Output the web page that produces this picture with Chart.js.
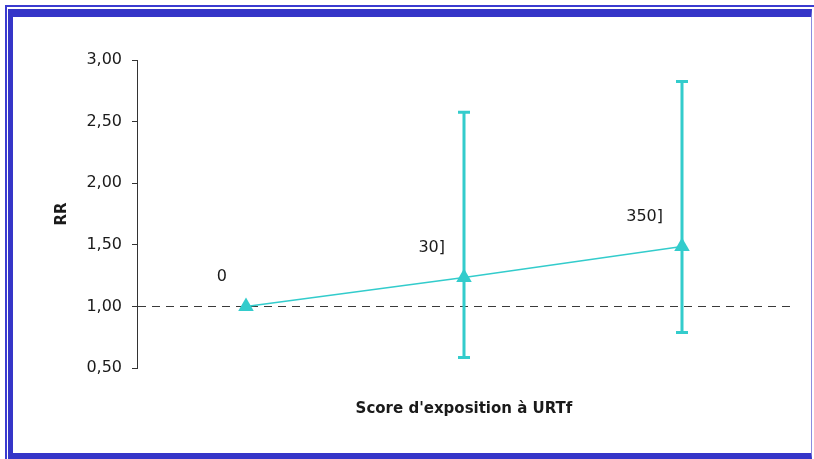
<!DOCTYPE html>
<html>
<head>
<meta charset="utf-8">
<script src="https://cdn.jsdelivr.net/npm/chart.js@4.4.0/dist/chart.umd.min.js"></script>
<style>
  html, body { margin: 0; padding: 0; background: #fff; overflow: hidden; }
  #wrap { position: relative; width: 814px; height: 459px; }
  .line { position: absolute; left: 5px; top: 5px; width: 900px; height: 900px; border-top: 2px solid #3b3bd0; border-left: 2px solid #3b3bd0; }
  .band { position: absolute; left: 8px; top: 9px; width: 798px; height: 436px; border-top: 8px solid #3535c8; border-left: 5px solid #3535c8; border-right: 1px solid #8c8ce0; border-bottom: 6px solid #3535c8; background: #fff; }
  canvas { position: absolute; left: 0; top: 0; }
</style>
</head>
<body>
<div id="wrap">
  <div class="line"></div>
  <div class="band"></div>
  <canvas id="myChart" width="814" height="459"></canvas>
</div>
<script>
// categories (score d'exposition) and relative risks with 95% CI
var categories = ['0', '30]', '350]'];
var rr = [1.00, 1.235, 1.487];
var ciLow = [null, 0.586, 0.789];
var ciHigh = [null, 2.575, 2.826];
var yTicks = [0.5, 1.0, 1.5, 2.0, 2.5, 3.0];

var teal = '#33cccc';

// error bars drawn behind the triangles
var errorBars = {
    id: 'errorBars',
    beforeDatasetsDraw: function(chart) {
        var ctx = chart.ctx;
        var y = chart.scales.y;
        var meta = chart.getDatasetMeta(0);
        ctx.save();
        ctx.strokeStyle = teal;
        ctx.lineWidth = 3;
        meta.data.forEach(function(pt, i) {
            if (ciLow[i] == null) return;
            var yl = y.getPixelForValue(ciLow[i]);
            var yh = y.getPixelForValue(ciHigh[i]);
            ctx.beginPath();
            ctx.moveTo(pt.x, yl); ctx.lineTo(pt.x, yh);
            ctx.moveTo(pt.x - 6, yl); ctx.lineTo(pt.x + 6, yl);
            ctx.moveTo(pt.x - 6, yh); ctx.lineTo(pt.x + 6, yh);
            ctx.stroke();
        });
        ctx.restore();
    }
};

// category labels written next to each point
var pointLabels = {
    id: 'pointLabels',
    afterDatasetsDraw: function(chart) {
        var ctx = chart.ctx;
        var meta = chart.getDatasetMeta(0);
        ctx.save();
        ctx.fillStyle = '#1a1a1a';
        ctx.font = '16px "DejaVu Sans"';
        ctx.textAlign = 'right';
        ctx.textBaseline = 'middle';
        meta.data.forEach(function(pt, i) {
            ctx.fillText(categories[i], pt.x - 19, pt.y - 30);
        });
        ctx.restore();
    }
};

var ctx = document.getElementById('myChart').getContext('2d');
var myChart = new Chart(ctx, {
    type: 'line',
    data: {
        labels: categories,
        datasets: [{
            data: rr,
            borderColor: teal,
            borderWidth: 1.5,
            backgroundColor: teal,
            pointStyle: 'triangle',
            pointRadius: 9,
            pointHoverRadius: 9,
            pointBorderWidth: 0,
            pointBackgroundColor: teal,
            tension: 0
        }]
    },
    plugins: [errorBars, pointLabels],
    options: {
        responsive: false,
        animation: false,
        events: [],
        layout: { padding: { left: 50, top: 60, right: 23, bottom: 41 } },
        plugins: { legend: { display: false }, tooltip: { enabled: false } },
        scales: {
            x: {
                offset: true,
                ticks: { display: false },
                grid: { display: false, drawTicks: false },
                border: { display: false },
                title: {
                    display: true,
                    text: "Score d'exposition à URTf",
                    color: '#1a1a1a',
                    font: { family: 'DejaVu Sans', size: 15, weight: 'bold' },
                    padding: { top: 32, bottom: 0 }
                }
            },
            y: {
                min: 0.5,
                max: 3.0,
                afterFit: function(scale) { scale.width = 87; },
                afterBuildTicks: function(scale) {
                    scale.ticks = yTicks.map(function(v) { return { value: v }; });
                },
                ticks: {
                    color: '#1a1a1a',
                    padding: 10,
                    font: { family: 'DejaVu Sans', size: 16 },
                    callback: function(v) { return v.toFixed(2).replace('.', ','); }
                },
                grid: {
                    tickLength: 5,
                    tickColor: '#333',
                    lineWidth: 1,
                    color: function(c) { return c.tick && c.tick.value === 1 ? '#3a3a3a' : 'rgba(0,0,0,0)'; }
                },
                border: { display: true, color: '#333', width: 1, dash: [8, 6] },
                title: {
                    display: true,
                    text: 'RR',
                    color: '#1a1a1a',
                    font: { family: 'DejaVu Sans', size: 15, weight: 'bold' },
                    padding: { top: 3, bottom: 0 }
                }
            }
        }
    }
});
</script>
</body>
</html>
